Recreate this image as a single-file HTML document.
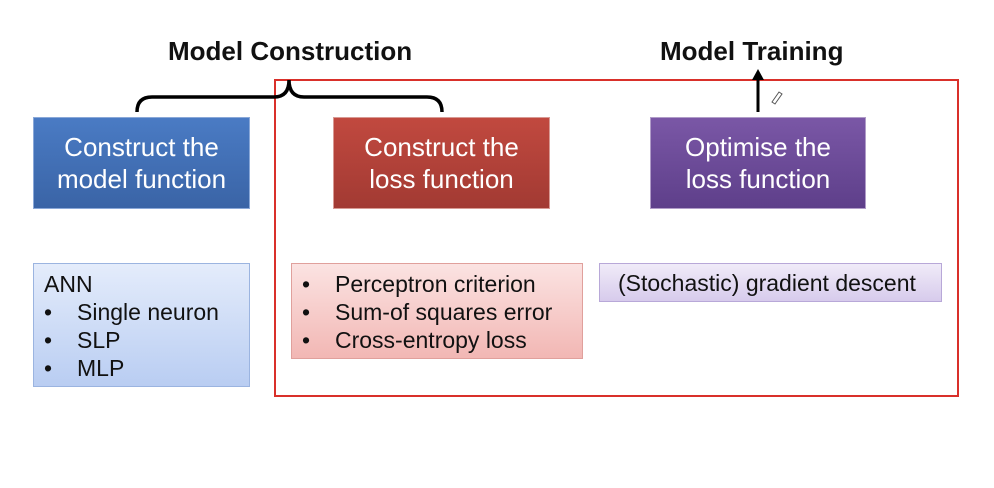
<!DOCTYPE html><html><head><style>
body{margin:0;width:994px;height:488px;background:#fff;position:relative;font-family:"Liberation Sans",sans-serif;overflow:hidden}
.a{position:absolute;box-sizing:border-box}
.h{color:#fff;font-size:26px;line-height:32px;text-align:center;display:flex;align-items:center;justify-content:center}
.t{font-size:23px;color:#111;line-height:28px;white-space:nowrap}
.b{display:inline-block;width:33px}
</style></head><body>
<div class="a t" style="left:168px;top:35px;font-weight:bold;font-size:26px;line-height:32px">Model Construction</div>
<div class="a t" style="left:660px;top:35px;font-weight:bold;font-size:26px;line-height:32px">Model Training</div>
<div class="a h" style="left:33px;top:117px;width:217px;height:92px;background:linear-gradient(#4a7bc4,#3a64a6);border:1px solid #8aa8d8">Construct the<br>model function</div>
<div class="a h" style="left:333px;top:117px;width:217px;height:92px;background:linear-gradient(#c1493f,#a23a33);border:1px solid #d89a94">Construct the<br>loss function</div>
<div class="a h" style="left:650px;top:117px;width:216px;height:92px;background:linear-gradient(#7a57a6,#5e3f8a);border:1px solid #b09cc8">Optimise the<br>loss function</div>
<div class="a t" style="left:33px;top:263px;width:217px;height:124px;background:linear-gradient(#e4ecfb,#b9cdf2);border:1px solid #9bb4e0;padding:6px 0 0 10px">ANN<br><span class="b">•</span>Single neuron<br><span class="b">•</span>SLP<br><span class="b">•</span>MLP</div>
<div class="a t" style="left:291px;top:263px;width:292px;height:96px;background:linear-gradient(#fbe3e2,#f2b7b4);border:1px solid #e0a09c;padding:6px 0 0 10px"><span class="b">•</span>Perceptron criterion<br><span class="b">•</span>Sum-of squares error<br><span class="b">•</span>Cross-entropy loss</div>
<div class="a t" style="left:599px;top:263px;width:343px;height:39px;background:linear-gradient(#f0ebf8,#d7cbec);border:1px solid #b8a8d8;padding:5px 0 0 18px">(Stochastic) gradient descent</div>
<div class="a" style="left:274px;top:79px;width:685px;height:318px;border:2.5px solid #d9302a"></div>
<svg class="a" style="left:0;top:0" width="994" height="488">
<path d="M137 112 Q137 97 152 97 L274 97 Q289 97 289 80 Q289 97 304 97 L427 97 Q442 97 442 112" fill="none" stroke="#000" stroke-width="3.5"/>
<line x1="758" y1="112" x2="758" y2="78" stroke="#000" stroke-width="3"/>
<polygon points="752,80 764,80 758,69" fill="#000"/>
<path d="M772 102 L779 92 L782 94 L775 104 Z" fill="none" stroke="#555" stroke-width="1"/>
</svg>
</body></html>
